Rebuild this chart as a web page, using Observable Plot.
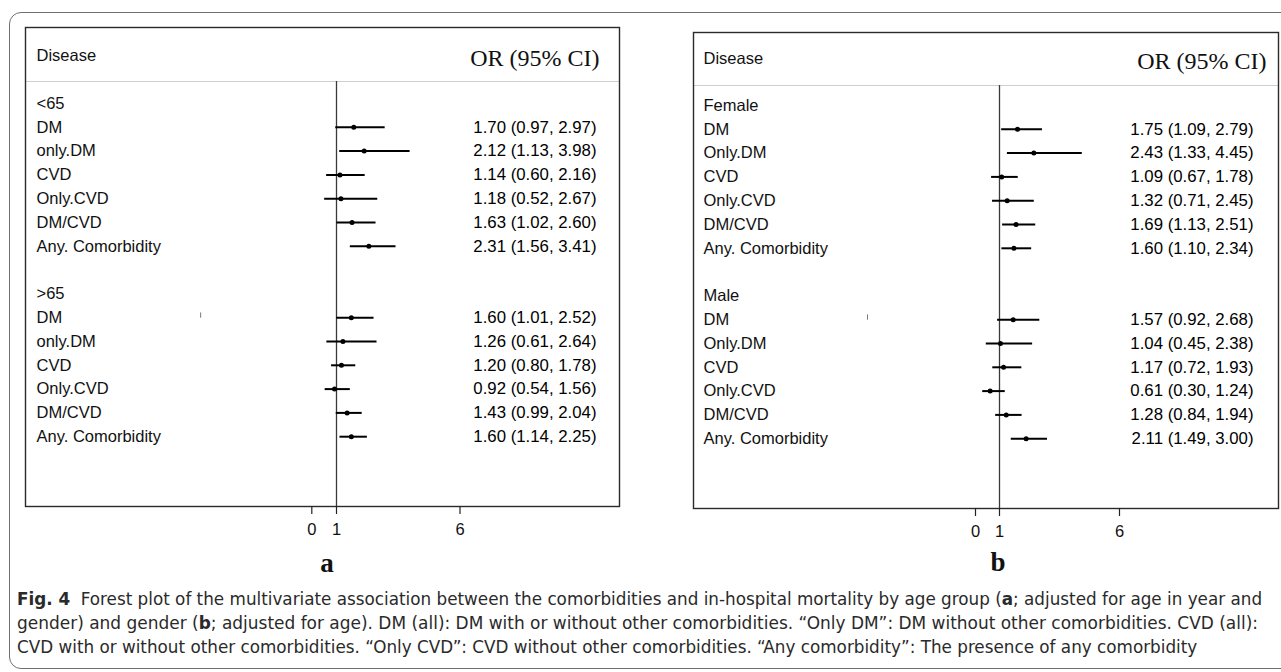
<!DOCTYPE html>
<html><head><meta charset="utf-8">
<script src="https://cdn.jsdelivr.net/npm/d3@7"></script>
<script src="https://cdn.jsdelivr.net/npm/@observablehq/plot@0.6"></script>
<style>
body{margin:0;background:#fff;}
#root{position:relative;width:1281px;height:672px;overflow:hidden;background:#fff;font-family:"Liberation Sans",Arial,sans-serif;}
#frame{position:absolute;left:9px;top:12px;width:1320px;height:657px;border:1.5px solid #707070;border-radius:12px;box-sizing:border-box;}
.panel{position:absolute;}
.panel svg{overflow:visible;}
.letter{position:absolute;font-family:"Liberation Serif","Times New Roman",serif;font-weight:bold;font-size:27px;line-height:1;transform:translate(-50%,-50%);color:#111;}
#caption{position:absolute;left:17px;top:587px;font-family:"DejaVu Sans Condensed","Liberation Sans Narrow","Liberation Sans",sans-serif;color:#2a2a2a;font-size:17.5px;}
.cap-line{white-space:nowrap;line-height:24px;height:24px;transform-origin:0 50%;}
.cap-line span{white-space:nowrap;}
.cap-line b{font-weight:bold;}
</style></head>
<body><div id="root">
<div id="frame"></div>
<div id="panelA" class="panel"></div>
<div id="panelB" class="panel"></div>
<div class="letter" style="left:327px;top:563px;">a</div>
<div class="letter" style="left:998px;top:562px;">b</div>
<div id="caption">
<div class="cap-line"><span><b>Fig. 4</b>&nbsp; Forest plot of the multivariate association between the comorbidities and in-hospital mortality by age group (<b>a</b>; adjusted for age in year and</span></div>
<div class="cap-line"><span>gender) and gender (<b>b</b>; adjusted for age). DM (all): DM with or without other comorbidities. “Only DM”: DM without other comorbidities. CVD (all):</span></div>
<div class="cap-line"><span>CVD with or without other comorbidities. “Only CVD”: CVD without other comorbidities. “Any comorbidity”: The presence of any comorbidity</span></div>
</div>
</div>
<script>
// ---- data ----
const headerLeft = "Disease";
const headerRight = "OR (95% CI)";
const xTicks = [0, 1, 6];

const groupsA = ["<65", ">65"];
const labelsA = [
  ["DM", "only.DM", "CVD", "Only.CVD", "DM/CVD", "Any. Comorbidity"],
  ["DM", "only.DM", "CVD", "Only.CVD", "DM/CVD", "Any. Comorbidity"]
];
const orA  = [[1.70, 2.12, 1.14, 1.18, 1.63, 2.31], [1.60, 1.26, 1.20, 0.92, 1.43, 1.60]];
const loA  = [[0.97, 1.13, 0.60, 0.52, 1.02, 1.56], [1.01, 0.61, 0.80, 0.54, 0.99, 1.14]];
const hiA  = [[2.97, 3.98, 2.16, 2.67, 2.60, 3.41], [2.52, 2.64, 1.78, 1.56, 2.04, 2.25]];

const groupsB = ["Female", "Male"];
const labelsB = [
  ["DM", "Only.DM", "CVD", "Only.CVD", "DM/CVD", "Any. Comorbidity"],
  ["DM", "Only.DM", "CVD", "Only.CVD", "DM/CVD", "Any. Comorbidity"]
];
const orB  = [[1.75, 2.43, 1.09, 1.32, 1.69, 1.60], [1.57, 1.04, 1.17, 0.61, 1.28, 2.11]];
const loB  = [[1.09, 1.33, 0.67, 0.71, 1.13, 1.10], [0.92, 0.45, 0.72, 0.30, 0.84, 1.49]];
const hiB  = [[2.79, 4.45, 1.78, 2.45, 2.51, 2.34], [2.68, 2.38, 1.93, 1.24, 1.94, 3.00]];

// stray tick mark visible in both panels (value on the OR axis)
const strayX = [-4.5];

// ---- build ----
function buildRows(groups, labels, or, lo, hi) {
  const rows = [];
  let r = 0;
  groups.forEach((g, gi) => {
    rows.push({row: r++, label: g, head: true});
    labels[gi].forEach((l, i) => {
      rows.push({row: r++, label: l, head: false, or: or[gi][i], lo: lo[gi][i], hi: hi[gi][i], gi, i});
    });
    r++; // blank line between groups
  });
  return rows;
}
const fmt = d => `${d.or.toFixed(2)} (${d.lo.toFixed(2)}, ${d.hi.toFixed(2)})`;

function panel(el, rows, g) {
  const ml = 1, mr = 1, mt = 1, mb = 40;
  const rowH = g.rowH;
  const plotH = g.axis - g.top;
  const height = mt + plotH + mb;
  const xlo = 1 - (g.xOne - g.left - ml) / g.unit;
  const xhi = xlo + (g.width - ml - mr) / g.unit;
  const yTop = (g.top - g.first) / rowH;
  const yBot = (g.axis - g.first) / rowH;
  const yHeadLine = (g.headLine - g.first) / rowH;
  const yHeadText = (g.headText - g.first) / rowH;
  const yTickEnd = yBot + 8 / rowH;
  const yTickText = yBot + 23 / rowH;
  const items = rows.filter(d => !d.head);
  const strayRow = items.find(d => d.gi === 1 && d.i === 0).row;
  const stray = strayX.map(x => ({x, y1: strayRow - 0.2, y2: strayRow + 0.02}));
  const ticks = xTicks.map(v => ({v, y1: yBot, y2: yTickEnd, yt: yTickText}));
  const svg = Plot.plot({
    width: g.width, height,
    marginLeft: ml, marginRight: mr, marginTop: mt, marginBottom: mb,
    style: {fontFamily: "'Liberation Sans', Arial, sans-serif", fontSize: "15px", background: "transparent", color: "#111", overflow: "visible"},
    x: {domain: [xlo, xhi], axis: null},
    y: {domain: [yTop, yBot], range: [mt, mt + plotH], axis: null},
    marks: [
      Plot.ruleY([yHeadLine], {stroke: "#cfcfcf", strokeWidth: 1.2}),
      Plot.ruleX([1], {y1: yHeadLine, y2: yBot, stroke: "#3a3a3a", strokeWidth: 1.3}),
      Plot.ruleY(items, {y: "row", x1: "lo", x2: "hi", stroke: "#000", strokeWidth: 2}),
      Plot.dot(items, {x: "or", y: "row", r: 2.5, fill: "#000", stroke: "none"}),
      Plot.ruleX(stray, {x: "x", y1: "y1", y2: "y2", stroke: "#777", strokeWidth: 1}),
      Plot.text(rows, {y: "row", text: "label", frameAnchor: "left", dx: g.labelInset, textAnchor: "start", fontSize: 16.5, fill: "#111"}),
      Plot.text(items, {y: "row", text: fmt, frameAnchor: "right", dx: -g.orInset, textAnchor: "end", fontSize: 16.8, fill: "#000"}),
      Plot.text([{t: headerLeft, y: yHeadText}], {y: "y", text: "t", frameAnchor: "left", dx: g.labelInset, textAnchor: "start", fontSize: 16.5, fill: "#111"}),
      Plot.text([{t: headerRight, y: yHeadText + 0.1}], {y: "y", text: "t", frameAnchor: "right", dx: -g.orRightInset, textAnchor: "end", fontSize: 24, fontFamily: "'Liberation Serif', 'Times New Roman', serif", fill: "#111"}),
      Plot.frame({stroke: "#2a2a2a", strokeWidth: 1.4}),
      // OR axis: ticks and labels drawn through the x scale
      Plot.ruleX(ticks, {x: "v", y1: "y1", y2: "y2", stroke: "#222", strokeWidth: 1.2}),
      Plot.text(ticks, {x: "v", y: "yt", text: d => String(d.v), fontSize: 16.5, fill: "#111", textAnchor: "middle"})
    ]
  });
  el.style.left = (g.left) + "px";
  el.style.top = (g.top - mt) + "px";
  el.appendChild(svg);
}

panel(document.getElementById("panelA"), buildRows(groupsA, labelsA, orA, loA, hiA),
  {left: 24, width: 596, top: 27, axis: 506, headLine: 81, headText: 55, first: 103, rowH: 23.8,
   xOne: 336, unit: 24.7, labelInset: 11, orInset: 23, orRightInset: 20});
panel(document.getElementById("panelB"), buildRows(groupsB, labelsB, orB, loB, hiB),
  {left: 692, width: 587, top: 32, axis: 508, headLine: 85, headText: 58, first: 105, rowH: 23.8,
   xOne: 999, unit: 24, labelInset: 10, orInset: 25, orRightInset: 12});

// fit caption lines horizontally (condensed face)
const lines = [...document.querySelectorAll("#caption .cap-line")];
const targets = [1245, 1241, null];
const w0 = lines[0].querySelector("span").getBoundingClientRect().width;
const k = 1245 / w0;
lines.forEach((ln, i) => {
  const w = ln.querySelector("span").getBoundingClientRect().width;
  const s = targets[i] ? targets[i] / w : k;
  ln.style.transform = `scaleX(${s.toFixed(4)})`;
});
</script>
</body></html>
